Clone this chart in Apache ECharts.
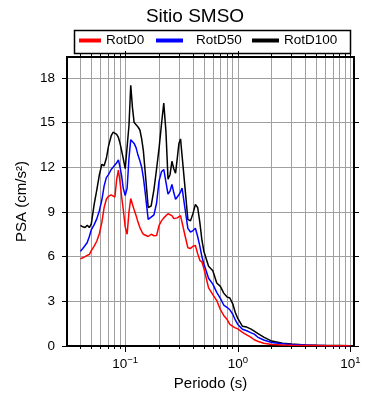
<!DOCTYPE html>
<html>
<head>
<meta charset="utf-8">
<script src="https://cdn.jsdelivr.net/npm/echarts@6/dist/echarts.min.js"></script>
<style>
html, body { margin: 0; padding: 0; background: #fff; }
#myChart { width: 390px; height: 400px; }
</style>
</head>
<body>
<div id="myChart"></div>
<script>
// periodo (s)
const periods = [0.040, 0.042, 0.044, 0.046, 0.048, 0.050, 0.053, 0.056, 0.059, 0.062,
  0.065, 0.068, 0.071, 0.075, 0.078, 0.081, 0.084, 0.087, 0.090, 0.093,
  0.096, 0.100, 0.104, 0.108, 0.112, 0.116, 0.120, 0.125, 0.130, 0.135,
  0.140, 0.145, 0.150, 0.160, 0.170, 0.180, 0.190, 0.200, 0.210, 0.220,
  0.230, 0.240, 0.250, 0.260, 0.270, 0.280, 0.290, 0.300, 0.310, 0.320,
  0.340, 0.360, 0.380, 0.400, 0.420, 0.440, 0.460, 0.480, 0.500, 0.550,
  0.600, 0.650, 0.700, 0.750, 0.800, 0.850, 0.900, 0.950, 1.000, 1.100,
  1.200, 1.300, 1.400, 1.500, 1.700, 2.000, 2.500, 3.000, 4.000, 5.000,
  6.000, 8.000, 10.00];

const rotD0 = [5.85, 5.92, 6.0, 6.08, 6.14, 6.4, 6.7, 7.05, 7.55, 8.3,
  9.3, 9.85, 10.05, 10.15, 10.15, 10.0, 11.2, 11.8, 11.0, 10.0,
  9.2, 8.0, 7.5, 9.0, 9.9, 9.5, 9.15, 8.75, 8.3, 7.95,
  7.7, 7.5, 7.45, 7.35, 7.5, 7.4, 7.42, 8.1, 8.4, 8.6,
  8.75, 8.88, 8.85, 8.75, 8.55, 8.45, 8.6, 8.7, 8.75, 8.83,
  7.4, 6.6, 6.55, 6.7, 6.75, 6.2, 5.75, 5.65, 5.2, 3.9,
  3.45, 3.05, 2.45, 2.05, 1.8, 1.45, 1.32, 1.22, 1.15, 0.92,
  0.75, 0.6, 0.42, 0.32, 0.18, 0.1, 0.06, 0.05, 0.04, 0.03,
  0.02, 0.02, 0.01];

const rotD50 = [6.35, 6.55, 6.75, 6.95, 7.35, 7.8, 8.15, 8.55, 9.1, 9.8,
  10.75, 11.3, 11.5, 11.85, 12.0, 12.0, 12.3, 12.5, 12.0, 11.4,
  10.6, 10.1, 10.6, 12.6, 13.85, 13.75, 13.6, 13.3, 12.8, 12.43,
  12.0, 11.3, 10.4, 8.5, 8.65, 8.8, 9.6, 11.1, 11.7, 11.85,
  11.0, 10.2, 10.4, 10.85, 10.3, 9.85, 10.0, 10.15, 10.35, 10.6,
  9.2, 7.9, 7.65, 7.75, 7.9, 7.35, 6.7, 6.0, 5.5, 4.55,
  4.15, 3.6, 3.2, 2.75, 2.6, 2.43, 2.15, 1.75, 1.45, 1.12,
  1.02, 0.9, 0.8, 0.6, 0.4, 0.24, 0.15, 0.1, 0.06, 0.04,
  0.03, 0.02, 0.02];

const rotD100 = [8.1, 8.0, 7.95, 8.1, 7.95, 8.2, 9.5, 10.5, 11.5, 12.2,
  12.1, 12.6, 13.4, 14.1, 14.35, 14.3, 14.2, 14.0, 13.6, 13.1,
  12.6, 11.9, 11.9, 14.8, 17.5, 16.0, 15.0, 14.85, 14.7, 14.5,
  13.9, 13.1, 11.8, 9.3, 9.4, 10.5, 11.9, 13.3, 14.9, 16.3,
  14.4, 11.2, 11.5, 12.4, 11.9, 11.6, 12.6, 13.6, 13.9, 13.9,
  10.6, 8.5, 8.4, 8.9, 9.5, 9.3, 8.3, 7.1, 6.35, 5.35,
  5.05, 4.23, 4.0, 3.55, 3.3, 3.22, 2.85, 2.25, 1.85, 1.32,
  1.27, 1.15, 1.0, 0.85, 0.6, 0.33, 0.18, 0.13, 0.07, 0.05,
  0.04, 0.03, 0.02];

const yTicks = [0, 3, 6, 9, 12, 15, 18];
const decades = [-1, 0, 1];

// eje x en log10(periodo)
const XMIN = -1.517, XMAX = 1.032;
const YMIN = 0, YMAX = 19.4;

const minorVals = [];
[-2, -1, 0, 1].forEach(n => {
  for (let k = 1; k <= 9; k++) {
    const v = Math.log10(k) + n;
    if (v > XMIN && v < XMAX) minorVals.push(v);
  }
});

const FONT = "'Liberation Sans', Arial, sans-serif";
const toXY = arr => periods.map((t, i) => [Math.log10(t), arr[i]]);

const xBase = {
  type: 'value', min: XMIN, max: XMAX, gridIndex: 0,
  axisLine: { show: false, onZero: false },
  axisLabel: { show: false },
  splitLine: { show: false }
};

const legendText = { fontSize: 13.5, color: '#000', fontFamily: FONT };

const myChart = echarts.init(document.getElementById('myChart'));
myChart.setOption({
  animation: false,
  backgroundColor: '#fff',
  textStyle: { fontFamily: FONT },
  title: {
    text: 'Sitio SMSO',
    left: 'center',
    top: 2,
    textStyle: { fontSize: 19, fontWeight: 'normal', color: '#000', fontFamily: FONT }
  },
  graphic: [{
    type: 'rect',
    left: 72, top: 28,
    shape: { width: 276, height: 23 },
    style: { fill: 'none', stroke: '#000', lineWidth: 1.5 }
  }],
  legend: [
    { data: ['RotD0'], left: 79, top: 33.5, padding: 0, icon: 'rect', itemWidth: 22, itemHeight: 4,
      textStyle: legendText },
    { data: ['RotD50'], left: 156, top: 33.5, padding: 0, icon: 'rect', itemWidth: 27, itemHeight: 4,
      textStyle: Object.assign({ padding: [0, 0, 0, 8] }, legendText) },
    { data: ['RotD100'], left: 252, top: 33.5, padding: 0, icon: 'rect', itemWidth: 27, itemHeight: 4,
      textStyle: legendText }
  ],
  grid: { left: 67, right: 36, top: 57, bottom: 54, containLabel: false },
  xAxis: [
    {
      type: 'value', min: XMIN, max: XMAX, position: 'bottom',
      name: 'Periodo (s)', nameLocation: 'middle', nameGap: 30,
      nameTextStyle: { fontSize: 15, color: '#000', fontFamily: FONT },
      axisLine: { show: true, onZero: false, lineStyle: { color: '#000', width: 2 } },
      axisTick: { show: true, inside: false, length: 3, customValues: minorVals, lineStyle: { color: '#000', width: 1 } },
      splitLine: { show: true, lineStyle: { color: '#a0a0a0', width: 1 } },
      axisLabel: {
        customValues: decades, margin: 9, color: '#000',
        formatter: v => '{b|10}{s|' + (v < 0 ? '\u2212' + Math.abs(v) : v) + '}',
        rich: {
          b: { fontSize: 13.5, lineHeight: 18, color: '#000', fontFamily: FONT },
          s: { fontSize: 9.5, lineHeight: 10, verticalAlign: 'top', color: '#000', fontFamily: FONT }
        }
      }
    },
    Object.assign({}, xBase, { position: 'bottom',
      axisTick: { show: true, length: 6, customValues: decades, lineStyle: { color: '#000', width: 1 } } }),
    Object.assign({}, xBase, { position: 'top',
      axisLine: { show: true, onZero: false, lineStyle: { color: '#000', width: 2 } },
      axisTick: { show: true, length: 3, customValues: minorVals, lineStyle: { color: '#000', width: 1 } } }),
    Object.assign({}, xBase, { position: 'top',
      axisTick: { show: true, length: 6, customValues: decades, lineStyle: { color: '#000', width: 1 } } })
  ],
  yAxis: [
    {
      type: 'value', min: YMIN, max: YMAX, position: 'left',
      name: 'PSA (cm/s\u00b2)', nameLocation: 'middle', nameGap: 30,
      nameTextStyle: { fontSize: 15, color: '#000', fontFamily: FONT },
      axisLine: { show: true, onZero: false, lineStyle: { color: '#000', width: 2 } },
      axisTick: { show: true, length: 5, customValues: yTicks, lineStyle: { color: '#000', width: 1 } },
      splitLine: { show: true, lineStyle: { color: '#a0a0a0', width: 1 } },
      axisLabel: { customValues: yTicks, margin: 12, fontSize: 13.5, color: '#000', fontFamily: FONT }
    },
    {
      type: 'value', min: YMIN, max: YMAX, position: 'right',
      axisLine: { show: true, onZero: false, lineStyle: { color: '#000', width: 2 } },
      axisTick: { show: true, length: 5, customValues: yTicks, lineStyle: { color: '#000', width: 1 } },
      splitLine: { show: false },
      axisLabel: { show: false }
    }
  ],
  series: [
    { name: 'RotD100', type: 'line', data: toXY(rotD100), showSymbol: false, symbol: 'none',
      color: '#000', lineStyle: { color: '#000', width: 1.5 }, z: 2 },
    { name: 'RotD50', type: 'line', data: toXY(rotD50), showSymbol: false, symbol: 'none',
      color: '#0000ff', lineStyle: { color: '#0000ff', width: 1.5 }, z: 3 },
    { name: 'RotD0', type: 'line', data: toXY(rotD0), showSymbol: false, symbol: 'none',
      color: '#ff0000', lineStyle: { color: '#ff0000', width: 1.5 }, z: 4 }
  ]
});
</script>
</body>
</html>
